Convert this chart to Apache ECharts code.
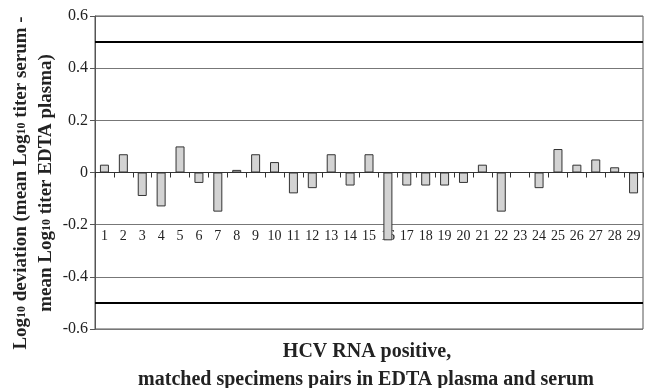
<!DOCTYPE html>
<html>
<head>
<meta charset="utf-8">
<title>HCV deviation</title>
<script src="https://cdn.jsdelivr.net/npm/echarts@6/dist/echarts.min.js"></script>
<style type="text/css">
body{ margin:0; background:#fff; }
#chart{ width:645px; height:388px; }
</style>
</head>
<body>
<div id="chart"></div>
<script type="text/javascript">
// sample pairs 1..29
var pairs = [];
for (var i = 1; i <= 29; i++) pairs.push(String(i));
// mean log10 serum - mean log10 EDTA plasma
var deviation = [0.03, 0.07, -0.09, -0.13, 0.10, -0.04, -0.15, 0.01, 0.07, 0.04,
                 -0.08, -0.06, 0.07, -0.05, 0.07, -0.26, -0.05, -0.05, -0.05, -0.04,
                 0.03, -0.15, 0, -0.06, 0.09, 0.03, 0.05, 0.02, -0.08];
var limits = [0.5, -0.5];

var serif = 'Liberation Serif';
var chart = echarts.init(document.getElementById('chart'));

var option = {
    animation: false,
    grid: { left: 95, right: 2, top: 16, bottom: 59, show: true, borderColor: '#555', borderWidth: 1,
            containLabel: false, outerBoundsMode: 'none' },
    xAxis: [{
        // axis line + ticks at zero
        type: 'category',
        data: pairs,
        axisLine: { onZero: true, lineStyle: { color: '#333', width: 1 } },
        axisTick: { show: true, inside: false, length: 5, lineStyle: { color: '#333' } },
        axisLabel: { show: false }
    }, {
        // labels only, shown along the -0.2 line
        type: 'category',
        data: pairs,
        position: 'bottom',
        offset: -104,
        axisLine: { show: false, onZero: false },
        axisTick: { show: false },
        axisLabel: { margin: 4, fontFamily: serif, fontSize: 14, color: '#222', interval: 0 }
    }],
    yAxis: {
        type: 'value',
        min: -0.6, max: 0.6, interval: 0.2,
        axisLine: { show: true, lineStyle: { color: '#555' } },
        axisTick: { show: true, length: 5, lineStyle: { color: '#555' } },
        axisLabel: {
            fontFamily: serif, fontSize: 16, color: '#222', margin: 7,
            formatter: function (v) { return Math.abs(v) < 1e-9 ? '0' : v.toFixed(1); }
        },
        splitLine: { lineStyle: { color: '#777', width: 1 } }
    },
    graphic: [
        {
            type: 'text', x: 34, y: 183, rotation: Math.PI / 2,
            style: {
                text: '{b|Log}{s|10}{b| deviation (mean Log}{s|10}{b| titer serum -}\n{b|mean Log}{s|10}{b| titer EDTA plasma)}',
                textAlign: 'center', textVerticalAlign: 'middle',
                rich: {
                    b: { fontFamily: serif, fontSize: 19, fontWeight: 'bold', fill: '#222', lineHeight: 25 },
                    s: { fontFamily: serif, fontSize: 12, fontWeight: 'bold', fill: '#222', lineHeight: 25 }
                }
            }
        },
        { type: 'text', x: 367, y: 352, style: { text: 'HCV RNA positive,', font: 'bold 20px "Liberation Serif"', fill: '#222', textAlign: 'center', textVerticalAlign: 'middle' } },
        { type: 'text', x: 366, y: 380, style: { text: 'matched specimens pairs in EDTA plasma and serum', font: 'bold 20px "Liberation Serif"', fill: '#222', textAlign: 'center', textVerticalAlign: 'middle' } }
    ],
    series: [{
        type: 'bar',
        data: deviation,
        barWidth: 9,
        itemStyle: { color: '#d3d3d3', borderColor: '#333', borderWidth: 1 },
        markLine: {
            silent: true,
            symbol: 'none',
            label: { show: false },
            lineStyle: { color: '#000', width: 2, type: 'solid' },
            data: limits.map(function (v) { return { yAxis: v }; })
        }
    }]
};

chart.setOption(option);
</script>
</body>
</html>
